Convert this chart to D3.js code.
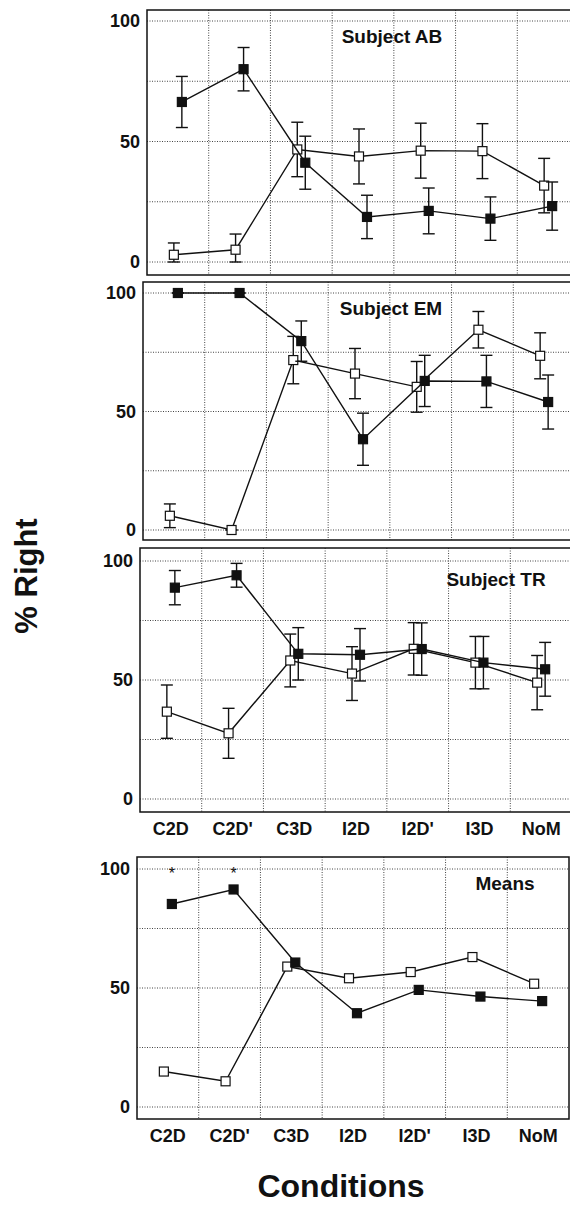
<!DOCTYPE html>
<html>
<head>
<meta charset="utf-8">
<script src="https://cdn.jsdelivr.net/npm/d3@7"></script>
<style>
  body { margin: 0; background: #fff; overflow: hidden; }
  text { font-family: Arial, "Liberation Sans", sans-serif; font-weight: bold; fill: #111; }
</style>
</head>
<body>
<div id="my_dataviz"></div>
<script>
// categories and labels
const conditions = ["C2D", "C2D'", "C3D", "I2D", "I2D'", "I3D", "NoM"];
const panelTitles = ["Subject AB", "Subject EM", "Subject TR", "Means"];
const yTicks = [0, 50, 100];
const yGrid = [0, 25, 50, 75, 100];

// Subject AB
const abFilled = [66.4, 80, 41.2, 18.7, 21.2, 18, 23.2];
const abFilledErr = [10.6, 9, 11, 9, 9.5, 9, 10];
const abOpen = [3, 5.1, 46.7, 43.8, 46.2, 46, 31.7];
const abOpenErr = [4.9, 6.5, 11.3, 11.4, 11.4, 11.4, 11.3];

// Subject EM
const emFilled = [100, 100, 79.7, 38.3, 62.9, 62.7, 54];
const emFilledErr = [0, 0, 8.5, 11, 10.8, 11, 11.4];
const emOpen = [6, 0, 71.7, 66, 60.4, 84.5, 73.5];
const emOpenErr = [5, 0, 10, 10.6, 10.7, 7.7, 9.7];

// Subject TR
const trFilled = [88.8, 94, 61, 60.6, 63, 57.3, 54.5];
const trFilledErr = [7.2, 5, 11, 11, 11, 11, 11.3];
const trOpen = [36.7, 27.6, 58.2, 52.7, 63.1, 57.3, 48.9];
const trOpenErr = [11.2, 10.5, 11.1, 11.3, 11, 11, 11.4];

// Means (no error bars)
const meanFilled = [85.3, 91.4, 60.7, 39.4, 49.2, 46.4, 44.5];
const meanOpen = [14.9, 10.8, 59, 54.1, 56.7, 63, 51.8];
const meanMarks = ["*", "*", "", "", "", "", ""];

const width = 570, height = 1223;
const plotW = 432;

// panel placement (the scan is slightly tilted, so each panel has its own left edge)
const panels = [
	{ title: panelTitles[0], filled: abFilled, filledErr: abFilledErr, open: abOpen, openErr: abOpenErr,
		left: 147, top: 10, bottom: 275, y100: 21, y0: 262, titleX: 392, titleY: 43 },
	{ title: panelTitles[1], filled: emFilled, filledErr: emFilledErr, open: emOpen, openErr: emOpenErr,
		left: 143, top: 282, bottom: 540, y100: 293, y0: 530, titleX: 391, titleY: 315 },
	{ title: panelTitles[2], filled: trFilled, filledErr: trFilledErr, open: trOpen, openErr: trOpenErr,
		left: 140, top: 548, bottom: 812, y100: 561, y0: 799, titleX: 496, titleY: 586, labels: true },
	{ title: panelTitles[3], filled: meanFilled, filledErr: null, open: meanOpen, openErr: null,
		left: 137, top: 857, bottom: 1119, y100: 869, y0: 1107, titleX: 505, titleY: 890, labels: true, marks: meanMarks }
];

const svg = d3.select("#my_dataviz")
	.append("svg")
	.attr("width", width)
	.attr("height", height);

const sq = 9;      // marker size
const shift = 4;   // horizontal offset between the two series

panels.forEach(function (p) {
	const g = svg.append("g");

	const x = d3.scaleBand()
		.domain(conditions)
		.range([p.left, p.left + plotW]);
	const cx = d => x(d) + x.bandwidth() / 2;

	const y = d3.scaleLinear()
		.domain([0, 100])
		.range([p.y0, p.y100]);

	// dotted grid
	g.selectAll("hgrid")
		.data(yGrid)
		.join("line")
		.attr("x1", p.left).attr("x2", p.left + plotW)
		.attr("y1", d => y(d)).attr("y2", d => y(d))
		.attr("stroke", "#444")
		.attr("stroke-width", 1)
		.attr("stroke-dasharray", "1,1.5");
	g.selectAll("vgrid")
		.data(conditions.slice(1))
		.join("line")
		.attr("x1", d => x(d)).attr("x2", d => x(d))
		.attr("y1", p.top).attr("y2", p.bottom)
		.attr("stroke", "#444")
		.attr("stroke-width", 1)
		.attr("stroke-dasharray", "1,1.5");

	// frame
	g.append("rect")
		.attr("x", p.left).attr("y", p.top)
		.attr("width", plotW).attr("height", p.bottom - p.top)
		.attr("fill", "none")
		.attr("stroke", "#111")
		.attr("stroke-width", 1.5);

	// y tick labels
	g.append("g")
		.attr("transform", `translate(${p.left - 7},0)`)
		.call(d3.axisLeft(y).tickValues(yTicks).tickSize(0).tickPadding(0))
		.call(a => a.select(".domain").remove())
		.selectAll("text")
		.style("font-size", "18px")
		.style("font-family", "Arial, 'Liberation Sans', sans-serif")
		.style("font-weight", "bold")
		.attr("fill", "#111");

	// x labels
	if (p.labels) {
		g.append("g")
			.attr("transform", `translate(0,${p.bottom + 5})`)
			.call(d3.axisBottom(x).tickSize(0).tickPadding(0))
			.call(a => a.select(".domain").remove())
			.selectAll("text")
			.attr("dy", "1em")
			.style("font-size", "18px")
			.style("font-family", "Arial, 'Liberation Sans', sans-serif")
			.style("font-weight", "bold")
			.attr("fill", "#111");
	}

	const series = [
		{ vals: p.open, err: p.openErr, dx: -shift, fill: "#fff" },
		{ vals: p.filled, err: p.filledErr, dx: shift, fill: "#111" }
	];

	const line = d3.line()
		.x(d => d.x)
		.y(d => y(d.v));

	series.forEach(function (s) {
		const pts = conditions.map((c, i) => ({ x: cx(c) + s.dx, v: s.vals[i], e: s.err ? s.err[i] : null }));

		g.append("path")
			.datum(pts)
			.attr("d", line)
			.attr("fill", "none")
			.attr("stroke", "#111")
			.attr("stroke-width", 1.4);

		if (s.err) {
			const eb = g.selectAll("errbars")
				.data(pts)
				.join("g")
				.attr("stroke", "#111")
				.attr("stroke-width", 1.4);
			const hi = d => y(Math.min(100, d.v + d.e));
			const lo = d => y(Math.max(0, d.v - d.e));
			eb.append("line")
				.attr("x1", d => d.x).attr("x2", d => d.x)
				.attr("y1", hi).attr("y2", lo);
			eb.append("line")
				.attr("x1", d => d.x - 6).attr("x2", d => d.x + 6)
				.attr("y1", hi).attr("y2", hi);
			eb.append("line")
				.attr("x1", d => d.x - 6).attr("x2", d => d.x + 6)
				.attr("y1", lo).attr("y2", lo);
		}

		g.selectAll("marks")
			.data(pts)
			.join("rect")
			.attr("x", d => d.x - sq / 2)
			.attr("y", d => y(d.v) - sq / 2)
			.attr("width", sq).attr("height", sq)
			.attr("fill", s.fill)
			.attr("stroke", "#111")
			.attr("stroke-width", 1.2);
	});

	// significance marks
	if (p.marks) {
		g.selectAll("stars")
			.data(conditions.filter((c, i) => p.marks[i]))
			.join("text")
			.attr("x", d => cx(d) + shift)
			.attr("y", y(100) + 10)
			.attr("text-anchor", "middle")
			.style("font-size", "16px")
			.style("font-weight", "normal")
			.text(d => p.marks[conditions.indexOf(d)]);
	}

	// panel title
	g.append("text")
		.attr("x", p.titleX)
		.attr("y", p.titleY)
		.attr("text-anchor", "middle")
		.style("font-size", "19px")
		.text(p.title);
});

// axis titles
svg.append("text")
	.attr("transform", "translate(37,576) rotate(-90)")
	.attr("text-anchor", "middle")
	.style("font-size", "31px")
	.text("% Right");

svg.append("text")
	.attr("x", 341)
	.attr("y", 1197)
	.attr("text-anchor", "middle")
	.style("font-size", "32px")
	.text("Conditions");
</script>
</body>
</html>
